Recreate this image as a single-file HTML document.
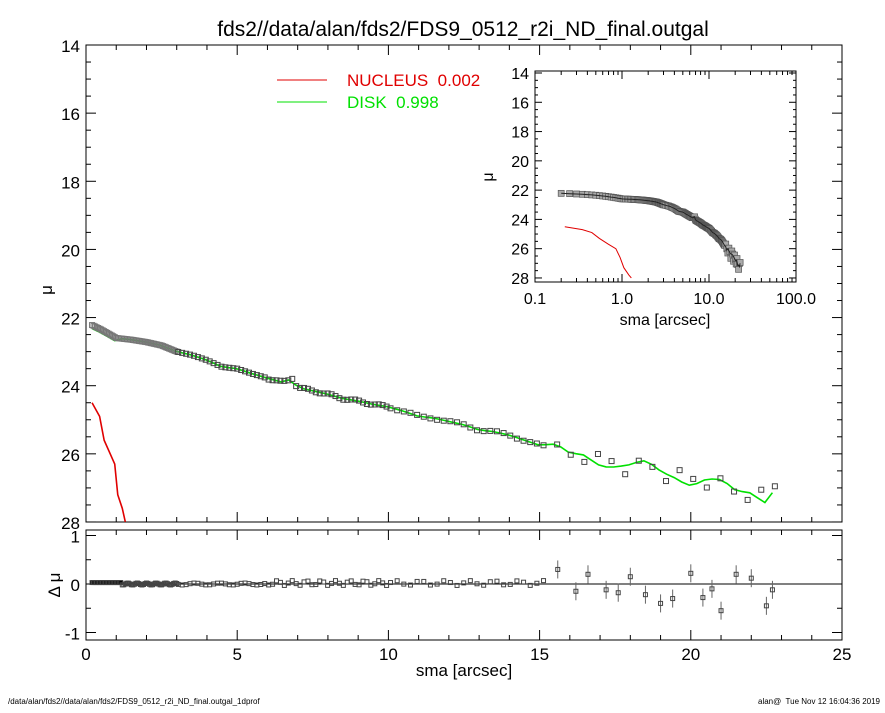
<!DOCTYPE html>
<html><head><meta charset="utf-8"><style>
body{margin:0;background:#fff}
svg text{font-family:"Liberation Sans",Arial,sans-serif}
</style></head><body>
<svg id="s" width="885" height="708" xmlns="http://www.w3.org/2000/svg"></svg>
<script>
const S=document.getElementById('s');let h='';
function X(s){return 86+s*30.24}
function Y(m){return 45+(m-14)*34.07}
function RY(r){return 584-r*48.5}
function IX(s){return 535+(Math.log10(s)+1)*87}
function IY(m){return 73+(m-14)*14.64}
h+='<text x="463" y="36" font-size="21" text-anchor="middle">fds2//data/alan/fds2/FDS9_0512_r2i_ND_final.outgal</text>';
h+='<rect x="86" y="45" width="756" height="477" fill="none" stroke="#000"/>';
for(let m=14;m<=28;m+=0.5){let y=Y(m),L=(m%2==0)?10:5;h+=`<line x1="86" y1="${y}" x2="${86+L}" y2="${y}" stroke="#000"/><line x1="842" y1="${y}" x2="${842-L}" y2="${y}" stroke="#000"/>`;if(m%2==0)h+=`<text x="80" y="${y+7}" font-size="17" text-anchor="end">${m}</text>`;}
for(let s=0;s<=25;s+=1){let x=X(s),L=(s%5==0)?10:5;h+=`<line x1="${x}" y1="522" x2="${x}" y2="${522-L}" stroke="#000"/><line x1="${x}" y1="45" x2="${x}" y2="${45+L}" stroke="#000"/>`;}
h+='<text x="52" y="290" font-size="17" transform="rotate(-90 52 290)" text-anchor="middle">μ</text>';
const D=[[0.2,22.22],[0.5,22.35],[1,22.6],[1.5,22.65],[2,22.72],[2.5,22.82],[3,23.0],[3.5,23.1],[4,23.25],[4.5,23.45],[5,23.5],[5.5,23.65],[6,23.78],[6.5,23.9],[6.8,23.8],[7,24.05],[7.5,24.15],[8,24.25],[8.5,24.38],[9,24.45],[9.5,24.55],[10,24.62],[10.5,24.75],[11,24.9],[11.5,24.95],[12,25.05],[12.5,25.15],[13,25.3],[13.5,25.35],[14,25.45],[14.5,25.6],[15,25.75],[15.5,25.85],[16,26.1],[16.5,26.0],[17,26.2],[17.5,26.3],[18,26.4],[18.5,26.35],[19,26.55],[19.5,26.6],[20,26.8],[20.5,26.75],[21,26.9],[21.5,27.2],[22,27.1],[22.5,27.3],[22.7,27.0]];
function mu(s){for(let i=1;i<D.length;i++)if(s<=D[i][0]){let a=D[i-1],b=D[i];return a[1]+(b[1]-a[1])*(s-a[0])/(b[0]-a[0]);}return 27;}
let g=[];for(let s=0.2;s<=22.7;s+=0.25){let v=mu(s)+(s<1?0.1:0)+(s>15?0.15*Math.sin(s*2.3):0);g.push(X(s).toFixed(1)+','+Y(v).toFixed(1));}
h+=`<polyline points="${g.join(' ')}" fill="none" stroke="#00e000" stroke-width="1.6"/>`;
let pts=[];let s=0.2;while(s<22.8){pts.push(s);s+=s<3?0.05:(s<10?0.13:(s<15?0.22:0.45));}
pts.forEach((s,i)=>{let r=s>15.5?0.4*Math.sin(i*2.1):(s>6?0.05*Math.sin(i):0);let m=mu(s)-r*0.6;if(Math.abs(s-6.8)<0.07)m=23.8;h+=`<rect x="${X(s)-2.5}" y="${Y(m)-2.5}" width="5" height="5" fill="none" stroke="${s<3?'#777':'#444'}" stroke-width="1"/>`;});
const R=[[0.2,24.5],[0.45,24.9],[0.6,25.6],[0.8,26.0],[0.95,26.3],[1.05,27.2],[1.2,27.6],[1.3,28]];
h+=`<polyline points="${R.map(p=>X(p[0])+','+Y(p[1])).join(' ')}" fill="none" stroke="#e00000" stroke-width="1.6"/>`;
h+='<line x1="277" y1="80" x2="327" y2="80" stroke="#e00000"/><text x="347" y="86" font-size="17" fill="#e00000">NUCLEUS&#160; 0.002</text>';
h+='<line x1="277" y1="102" x2="327" y2="102" stroke="#00e000"/><text x="347" y="108" font-size="17" fill="#00e000">DISK&#160; 0.998</text>';
h+='<rect x="508" y="58" width="318" height="250" fill="#fff"/>';
h+='<rect x="535" y="71" width="261" height="211" fill="none" stroke="#000"/>';
for(let m=14;m<=28;m+=0.5){let y=IY(m),L=(m%2==0)?7:3;h+=`<line x1="535" y1="${y}" x2="${535+L}" y2="${y}" stroke="#000"/><line x1="796" y1="${y}" x2="${796-L}" y2="${y}" stroke="#000"/>`;if(m%2==0)h+=`<text x="529" y="${y+6}" font-size="16" text-anchor="end">${m}</text>`;}
for(let d=0.1;d<100;d*=10)for(let k=1;k<=9;k++){let x=IX(d*k),L=k==1?8:4;h+=`<line x1="${x}" y1="282" x2="${x}" y2="${282-L}" stroke="#000"/><line x1="${x}" y1="71" x2="${x}" y2="${71+L}" stroke="#000"/>`;}
[['0.1',0.1],['1.0',1],['10.0',10],['100.0',100]].forEach(t=>h+=`<text x="${IX(t[1])}" y="304" font-size="16" text-anchor="middle">${t[0]}</text>`);
h+='<text x="665" y="325" font-size="16" text-anchor="middle">sma [arcsec]</text>';
h+='<text x="493" y="177" font-size="16" transform="rotate(-90 493 177)" text-anchor="middle">μ</text>';
pts.forEach((s,i)=>{let m=mu(s)-(s>15.5?0.3*Math.sin(i*2.1):0);h+=`<rect x="${IX(s)-3}" y="${IY(m)-3}" width="6" height="6" fill="#aaa" stroke="#555" stroke-width="0.7"/>`;});
h+=`<polyline points="${pts.map(s=>IX(s).toFixed(1)+','+IY(mu(s)).toFixed(1)).join(' ')}" fill="none" stroke="#222" stroke-width="1"/>`;
const RI=[[0.22,24.5],[0.35,24.7],[0.45,24.9],[0.55,25.3],[0.7,25.7],[0.85,26.0],[0.95,26.6],[1.05,27.3],[1.2,27.8],[1.28,28]];
h+=`<polyline points="${RI.map(p=>IX(p[0])+','+IY(p[1])).join(' ')}" fill="none" stroke="#e00000" stroke-width="1"/>`;
h+='<rect x="86" y="530" width="756" height="110" fill="none" stroke="#000"/>';
h+='<line x1="86" y1="584" x2="842" y2="584" stroke="#000"/>';
for(let r=-1;r<=1;r+=0.5){let y=RY(r),L=(r%1==0)?10:5;h+=`<line x1="86" y1="${y}" x2="${86+L}" y2="${y}" stroke="#000"/><line x1="842" y1="${y}" x2="${842-L}" y2="${y}" stroke="#000"/>`;if(r%1==0)h+=`<text x="80" y="${y+7}" font-size="17" text-anchor="end">${r}</text>`;}
for(let s=0;s<=25;s+=1){let x=X(s),L=(s%5==0)?10:5;h+=`<line x1="${x}" y1="640" x2="${x}" y2="${640-L}" stroke="#000"/><line x1="${x}" y1="530" x2="${x}" y2="${530+L}" stroke="#000"/>`;}
for(let s=0;s<=25;s+=5)h+=`<text x="${X(s)}" y="660" font-size="17" text-anchor="middle">${s}</text>`;
h+='<text x="464" y="676" font-size="17" text-anchor="middle">sma [arcsec]</text>';
h+='<text x="60" y="585" font-size="17" transform="rotate(-90 60 585)" text-anchor="middle">Δ μ</text>';
const RS=[[15.6,0.3],[16.2,-0.15],[16.6,0.2],[17.2,-0.12],[17.6,-0.18],[18,0.15],[18.5,-0.22],[19,-0.4],[19.4,-0.3],[20,0.22],[20.4,-0.28],[20.7,-0.1],[21,-0.55],[21.5,0.2],[22,0.12],[22.5,-0.45],[22.7,-0.12]];
pts.forEach((s,i)=>{if(s>15.4)return;let r=s<1.2?0.03:(s>6?0.05*Math.sin(i*1.7)+0.02:-0.02*Math.sin(i));let y=RY(r);h+=`<rect x="${X(s)-2}" y="${y-2}" width="4" height="4" fill="${s<1.2?'#000':'none'}" stroke="#444"/>`;});
RS.forEach(p=>{let y=RY(p[1]);h+=`<line x1="${X(p[0])}" y1="${y-9}" x2="${X(p[0])}" y2="${y+9}" stroke="#666"/><rect x="${X(p[0])-2}" y="${y-2}" width="4" height="4" fill="none" stroke="#444"/>`;});
h+='<text x="8" y="704" font-size="8">/data/alan/fds2//data/alan/fds2/FDS9_0512_r2i_ND_final.outgal_1dprof</text>';
h+='<text x="880" y="704" font-size="8" text-anchor="end">alan@&#160; Tue Nov 12 16:04:36 2019</text>';
S.innerHTML=h;
</script>
</body></html>
